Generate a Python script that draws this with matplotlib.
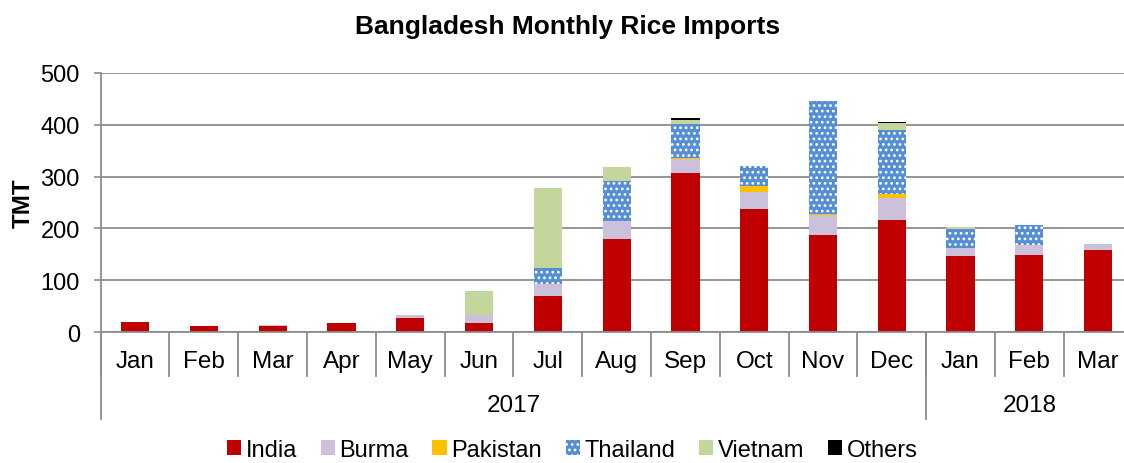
import numpy as np
import matplotlib.pyplot as plt
from matplotlib.transforms import blended_transform_factory
from matplotlib.patches import Patch

plt.rcParams['font.family'] = ['Liberation Sans', 'DejaVu Sans']
plt.rcParams['hatch.linewidth'] = 1.2

# data (TMT)
months = ["Jan", "Feb", "Mar", "Apr", "May", "Jun", "Jul", "Aug", "Sep", "Oct", "Nov", "Dec",
          "Jan", "Feb", "Mar"]
years = ["2017", "2018"]
year_counts = [12, 3]

india = [20, 12, 12, 17, 28, 17, 70, 180, 306, 237, 187, 217, 147, 149, 158]
burma = [0, 0, 1, 1, 4, 16, 23, 35, 28, 33, 38, 41, 16, 18, 12]
pakistan = [0, 0, 0, 0, 0, 0, 0, 0, 1, 12, 2, 8, 0, 0, 0]
thailand = [0, 0, 0, 0, 0, 0, 30, 77, 66, 38, 219, 123, 35, 40, 0]
vietnam = [0, 0, 0, 0, 0, 47, 154, 26, 8, 0, 0, 15, 5, 0, 0]
others = [0, 0, 0, 0, 0, 0, 0, 0, 3, 0, 0, 1, 0, 0, 0]

series = [("India", india, "#C00000"),
          ("Burma", burma, "#CCC1DA"),
          ("Pakistan", pakistan, "#FFC000"),
          ("Thailand", thailand, "#558ED5"),
          ("Vietnam", vietnam, "#C3D69B"),
          ("Others", others, "#000000")]

fig = plt.figure(figsize=(11.24, 4.64), dpi=100)
ax = fig.add_axes([0.0896, 0.2823, 0.918, 0.5585])

x = np.arange(len(months))
bottom = np.zeros(len(months))
handles = []
for name, vals, col in series:
    vals = np.array(vals, dtype=float)
    if name == "Thailand":
        ax.bar(x, vals, 0.41, bottom=bottom, color=col, edgecolor="white",
               linewidth=0, hatch="...", zorder=3)
        handles.append(Patch(facecolor=col, edgecolor="white", linewidth=0, hatch="...", label=name))
    else:
        ax.bar(x, vals, 0.41, bottom=bottom, color=col, linewidth=0, zorder=3)
        handles.append(Patch(facecolor=col, linewidth=0, label=name))
    bottom += vals

grid_col = "#8C8C8C"
ax.set_xlim(-0.5, len(months) - 0.5)
ax.set_ylim(0, 500)
ax.set_yticks(np.arange(0, 501, 100))
ax.yaxis.grid(True, color=grid_col, linewidth=1.3, zorder=0)
ax.tick_params(axis="y", length=5, width=1.2, color=grid_col, labelsize=17, pad=10)
for s in ["top", "right", "bottom"]:
    ax.spines[s].set_visible(False)
ax.spines["left"].set_color(grid_col)
ax.spines["left"].set_linewidth(1.3)
ax.set_xticks([])
ax.set_ylabel("TMT", fontsize=17.5, fontweight="bold", labelpad=4)
fig.text(0.505, 0.942, "Bangladesh Monthly Rice Imports", ha="center", va="center",
         fontsize=19, fontweight="bold")

# two-level category axis
tr = blended_transform_factory(ax.transData, ax.transAxes)
ax.plot([-0.5, len(months) - 0.5], [0, 0], color=grid_col, lw=1.3, transform=tr, clip_on=False, zorder=4)
for k in range(len(months) + 1):
    ax.plot([k - 0.5, k - 0.5], [0, -0.17], color=grid_col, lw=1.3, transform=tr, clip_on=False)
for k, m in enumerate(months):
    ax.text(k, -0.11, m, ha="center", va="center", fontsize=17.5, transform=tr)
start = 0
for yr, n in zip(years, year_counts):
    ax.plot([start - 0.5, start - 0.5], [0, -0.335], color=grid_col, lw=1.3, transform=tr, clip_on=False)
    ax.text(start + (n - 1) / 2, -0.28, yr, ha="center", va="center", fontsize=17.5, transform=tr)
    start += n
ax.plot([start - 0.5, start - 0.5], [0, -0.335], color=grid_col, lw=1.3, transform=tr, clip_on=False)

fig.legend(handles=handles, loc="lower center", bbox_to_anchor=(0.509, -0.042), ncol=6,
           frameon=False, fontsize=17, handlelength=0.6, handleheight=0.6,
           handletextpad=0.2, columnspacing=1.0)

fig.savefig("out.png", dpi=100)
